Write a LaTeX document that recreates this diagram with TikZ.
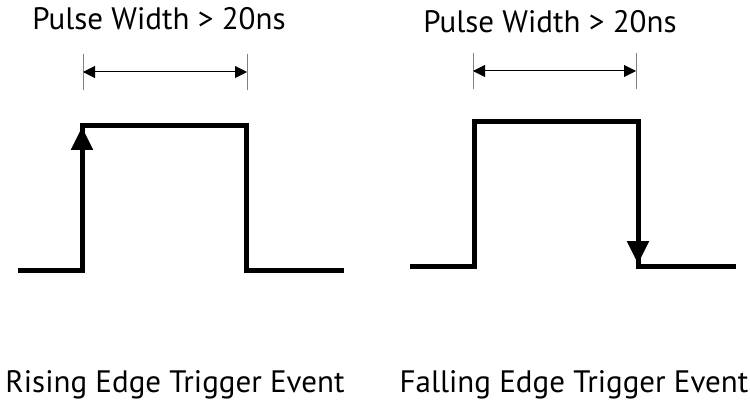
\documentclass[tikz,border=0pt]{standalone}
\usepackage{fontspec}
\setmainfont{PT Sans}
\usetikzlibrary{arrows.meta}
\begin{document}
\begin{tikzpicture}[x=1pt,y=-1pt,
  lbl/.style={inner sep=0pt,anchor=base,font=\fontsize{31}{34}\selectfont},
  wave/.style={line width=5pt,line join=miter,line cap=butt},
  edgearrow/.style={-{Triangle[length=23pt,width=21pt]},line width=5pt},
  dim/.style={{Triangle[length=12pt,width=12pt]}-{Triangle[length=12pt,width=12pt]},line width=1pt},
  tick/.style={draw=gray,line width=1pt}]
\useasboundingbox (0,0) rectangle (750,401);
% Labels
\node[lbl] (t1) at (159,30) {Pulse Width > 20ns};
\node[lbl] (t2) at (550,33) {Pulse Width > 20ns};
\node[lbl] (b1) at (175,392) {Rising Edge Trigger Event};
\node[lbl] (b2) at (574,392) {Falling Edge Trigger Event};
% Left dimension
\coordinate (l1a) at (83,54); \coordinate (l1b) at (83,90);
\coordinate (l2a) at (247,54); \coordinate (l2b) at (247,90);
\draw[tick] (l1a) -- (l1b);
\draw[tick] (l2a) -- (l2b);
\coordinate (ld1) at (83,72); \coordinate (ld2) at (247,72);
\draw[dim] (ld1) -- (ld2);
% Right dimension
\coordinate (r1a) at (473,53); \coordinate (r1b) at (473,89);
\coordinate (r2a) at (636,53); \coordinate (r2b) at (636,89);
\draw[tick] (r1a) -- (r1b);
\draw[tick] (r2a) -- (r2b);
\coordinate (rd1) at (473,71); \coordinate (rd2) at (636,71);
\draw[dim] (rd1) -- (rd2);
% Left waveform (rising)
\coordinate (a0) at (18,270); \coordinate (a1) at (82,270);
\coordinate (a2) at (82,126); \coordinate (a3) at (246,126);
\coordinate (a4) at (246,270); \coordinate (a5) at (344,270);
\draw[wave] (a0) -- (a1) -- (a2) -- (a3) -- (a4) -- (a5);
\coordinate (am) at (82,200); \coordinate (at) at (82,127);
\draw[edgearrow] (am) -- (at);
% Right waveform (falling)
\coordinate (b0) at (410,266); \coordinate (b1p) at (474,266);
\coordinate (b2p) at (474,122); \coordinate (b3) at (638,122);
\coordinate (b4) at (638,266); \coordinate (b5) at (736,266);
\draw[wave] (b0) -- (b1p) -- (b2p) -- (b3) -- (b4) -- (b5);
\coordinate (bm) at (638,200); \coordinate (bt) at (638,264);
\draw[edgearrow] (bm) -- (bt);
\end{tikzpicture}
\end{document}
